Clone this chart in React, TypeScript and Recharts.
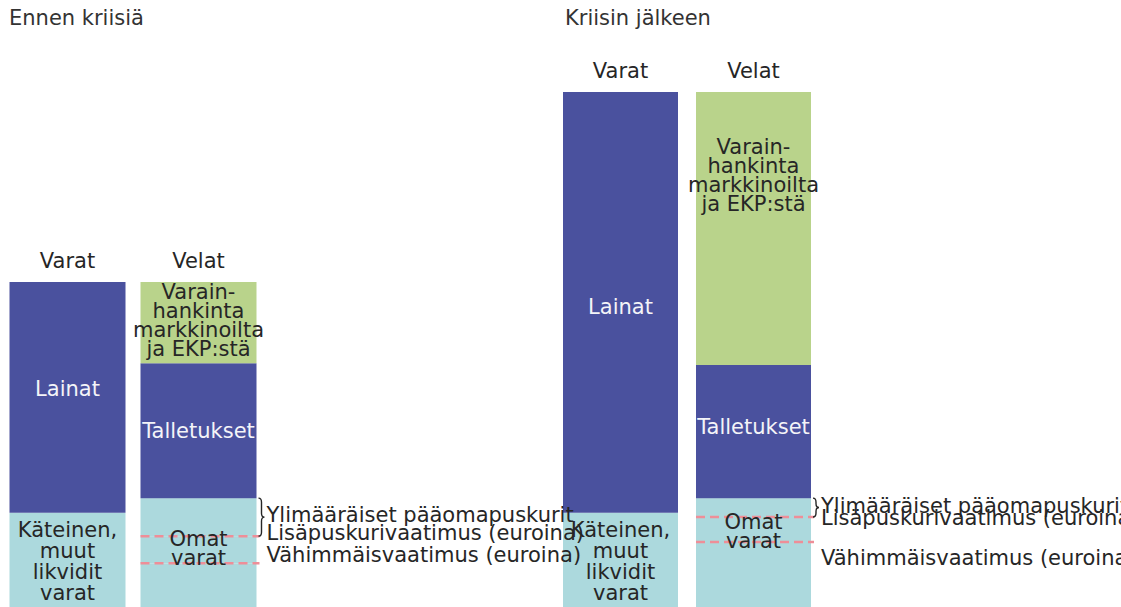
import React from 'react';
import { BarChart, Bar, XAxis, YAxis, LabelList } from 'recharts';

const PERIODS = ['Ennen kriisiä', 'Kriisin jälkeen'];
const CATEGORIES = ['Varat', 'Velat'];

// Varat (assets), bottom to top
const KATEINEN = [29, 29];
const LAINAT = [71, 129.5];
// Velat: own funds split at the requirement levels, then liabilities
const VAHIMMAIS = [13.5, 20];
const LISAPUSKURI = [8.3, 7.7];
const YLIMAARAISET = [11.7, 5.8];
const TALLETUKSET = [41.5, 41];
const VARAINHANKINTA = [25, 84];

const Y_MAX = 158.5;

const FONT = '"DejaVu Sans", Verdana, sans-serif';
const FS = 21;
const BLUE = '#4a519e';
const GREEN = '#b9d38b';
const LIGHT = '#acd9dd';
const DASH = '#ee8e98';
const INK = '#262626';
const WHITE = '#f4f4f8';

const LAYOUT = [
    { left: 0, width: 600, margin: { top: 92, right: 336.5, bottom: 0, left: 1.5 }, barSize: 116 },
    { left: 554, width: 567, margin: { top: 92, right: 301, bottom: 0, left: 0 }, barSize: 115 },
];

// label nudges (px) per period
const SHIFT = {
    lainat: [-8, 5],
    talletukset: [0, -5],
    varainhankinta: [-2, -53],
    omat: [50, 33],
    ylim: [-2, -2],
    lisa: [-3, 1],
    vahimmais: [-8, 16],
};

const box = (p: any) => {
    const vb = p.viewBox ?? {};
    return {
        x: Number(p.x ?? vb.x),
        y: Number(p.y ?? vb.y),
        w: Number(p.width ?? vb.width),
        h: Number(p.height ?? vb.height),
    };
};

const Lines = ({ cx, cy, lines, lh, fill }: any) => (
    <g>
        {lines.map((t: string, i: number) => (
            <text
                key={i}
                x={cx}
                y={cy + (i - (lines.length - 1) / 2) * lh}
                textAnchor="middle"
                dominantBaseline="central"
                fontSize={FS}
                fontFamily={FONT}
                fill={fill}
            >
                {t}
            </text>
        ))}
    </g>
);

const Note = ({ x, y, text }: any) => (
    <text x={x} y={y} dominantBaseline="central" fontSize={FS} fontFamily={FONT} fill={INK}>
        {text}
    </text>
);

// rect with a dashed requirement line on its lower edge
const dashedBottom = (props: any) => {
    const { x, y, width, height, fill } = props;
    if (!height || height <= 0) return <g />;
    const yb = y + height;
    return (
        <g>
            <rect x={x} y={y} width={width} height={height} fill={fill} />
            <line x1={x} x2={x + width + 3} y1={yb} y2={yb} stroke={DASH} strokeWidth={2.5} strokeDasharray="9 5" />
        </g>
    );
};

const Brace = ({ x, top, bottom }: any) => {
    const mid = (top + bottom) / 2;
    const r = Math.min(4, (bottom - top) / 4);
    const d = `M${x} ${top} Q${x + 3} ${top} ${x + 3} ${top + r} L${x + 3} ${mid - r} Q${x + 3} ${mid} ${x + 6} ${mid} Q${x + 3} ${mid} ${x + 3} ${mid + r} L${x + 3} ${bottom - r} Q${x + 3} ${bottom} ${x} ${bottom}`;
    return <path d={d} fill="none" stroke={INK} strokeWidth={1.4} />;
};

// each series holds a value in one row only: draw its label there
const onValue = (render: (b: any) => React.ReactNode) => (props: any) => {
    const v = Number(props.value);
    if (!props.value || !(v > 0)) return null;
    return <g>{render(box(props))}</g>;
};

const BalanceChart = ({ p }: { p: number }) => {
    const L = LAYOUT[p];
    const data = [
        { name: CATEGORIES[0], kateinen: KATEINEN[p], lainat: LAINAT[p] },
        {
            name: CATEGORIES[1],
            vahimmais: VAHIMMAIS[p],
            lisapuskuri: LISAPUSKURI[p],
            ylimaaraiset: YLIMAARAISET[p],
            talletukset: TALLETUKSET[p],
            varainhankinta: VARAINHANKINTA[p],
        },
    ];

    return (
        <div style={{ position: 'absolute', left: L.left, top: 0 }}>
            <BarChart width={L.width} height={607} data={data} margin={L.margin} barSize={L.barSize}>
                <XAxis dataKey="name" hide />
                <YAxis hide type="number" domain={[0, Y_MAX]} allowDataOverflow />

                <Bar dataKey="kateinen" stackId="s" fill={LIGHT} isAnimationActive={false}>
                    <LabelList
                        dataKey="kateinen"
                        content={onValue((b) => (
                            <Lines
                                cx={b.x + b.w / 2}
                                cy={b.y + b.h / 2 + 2}
                                lines={['Käteinen,', 'muut', 'likvidit', 'varat']}
                                lh={21}
                                fill={INK}
                            />
                        ))}
                    />
                </Bar>
                <Bar dataKey="lainat" stackId="s" fill={BLUE} isAnimationActive={false}>
                    <LabelList
                        dataKey="lainat"
                        content={onValue((b) => (
                            <>
                                <Lines cx={b.x + b.w / 2} cy={b.y + b.h / 2 + SHIFT.lainat[p]} lines={['Lainat']} lh={20} fill={WHITE} />
                                <Lines cx={b.x + b.w / 2} cy={b.y - 21} lines={[CATEGORIES[0]]} lh={20} fill={INK} />
                            </>
                        ))}
                    />
                </Bar>

                <Bar dataKey="vahimmais" stackId="s" fill={LIGHT} isAnimationActive={false}>
                    <LabelList
                        dataKey="vahimmais"
                        content={onValue((b) => (
                            <Note x={b.x + b.w + 10} y={b.y + SHIFT.vahimmais[p]} text="Vähimmäisvaatimus (euroina)" />
                        ))}
                    />
                </Bar>
                <Bar dataKey="lisapuskuri" stackId="s" fill={LIGHT} shape={dashedBottom} isAnimationActive={false}>
                    <LabelList
                        dataKey="lisapuskuri"
                        content={onValue((b) => (
                            <Note x={b.x + b.w + 10} y={b.y + SHIFT.lisa[p]} text="Lisäpuskurivaatimus (euroina)" />
                        ))}
                    />
                </Bar>
                <Bar dataKey="ylimaaraiset" stackId="s" fill={LIGHT} shape={dashedBottom} isAnimationActive={false}>
                    <LabelList
                        dataKey="ylimaaraiset"
                        content={onValue((b) => (
                            <>
                                <Brace x={b.x + b.w + 2} top={b.y} bottom={b.y + b.h} />
                                <Note x={b.x + b.w + 10} y={b.y + b.h / 2 + SHIFT.ylim[p]} text="Ylimääräiset pääomapuskurit" />
                                <Lines cx={b.x + b.w / 2} cy={b.y + SHIFT.omat[p]} lines={['Omat', 'varat']} lh={19} fill={INK} />
                            </>
                        ))}
                    />
                </Bar>
                <Bar dataKey="talletukset" stackId="s" fill={BLUE} isAnimationActive={false}>
                    <LabelList
                        dataKey="talletukset"
                        content={onValue((b) => (
                            <Lines cx={b.x + b.w / 2} cy={b.y + b.h / 2 + SHIFT.talletukset[p]} lines={['Talletukset']} lh={20} fill={WHITE} />
                        ))}
                    />
                </Bar>
                <Bar dataKey="varainhankinta" stackId="s" fill={GREEN} isAnimationActive={false}>
                    <LabelList
                        dataKey="varainhankinta"
                        content={onValue((b) => (
                            <>
                                <Lines
                                    cx={b.x + b.w / 2}
                                    cy={b.y + b.h / 2 + SHIFT.varainhankinta[p]}
                                    lines={['Varain-', 'hankinta', 'markkinoilta', 'ja EKP:stä']}
                                    lh={19}
                                    fill={INK}
                                />
                                <Lines cx={b.x + b.w / 2} cy={b.y - 21} lines={[CATEGORIES[1]]} lh={20} fill={INK} />
                            </>
                        ))}
                    />
                </Bar>
            </BarChart>
        </div>
    );
};

const TITLE_X = [9, 565];

export default function App() {
    return (
        <div
            style={{
                position: 'absolute',
                left: 0,
                top: 0,
                width: 1121,
                height: 607,
                overflow: 'hidden',
                background: '#fff',
                fontFamily: FONT,
            }}
        >
            {/* later period first so the earlier chart's notes sit on top */}
            <BalanceChart p={1} />
            <BalanceChart p={0} />
            {PERIODS.map((t, i) => (
                <div
                    key={t}
                    style={{
                        position: 'absolute',
                        left: TITLE_X[i],
                        top: 7,
                        fontSize: FS,
                        lineHeight: '22px',
                        color: '#333',
                        whiteSpace: 'nowrap',
                    }}
                >
                    {t}
                </div>
            ))}
        </div>
    );
}
